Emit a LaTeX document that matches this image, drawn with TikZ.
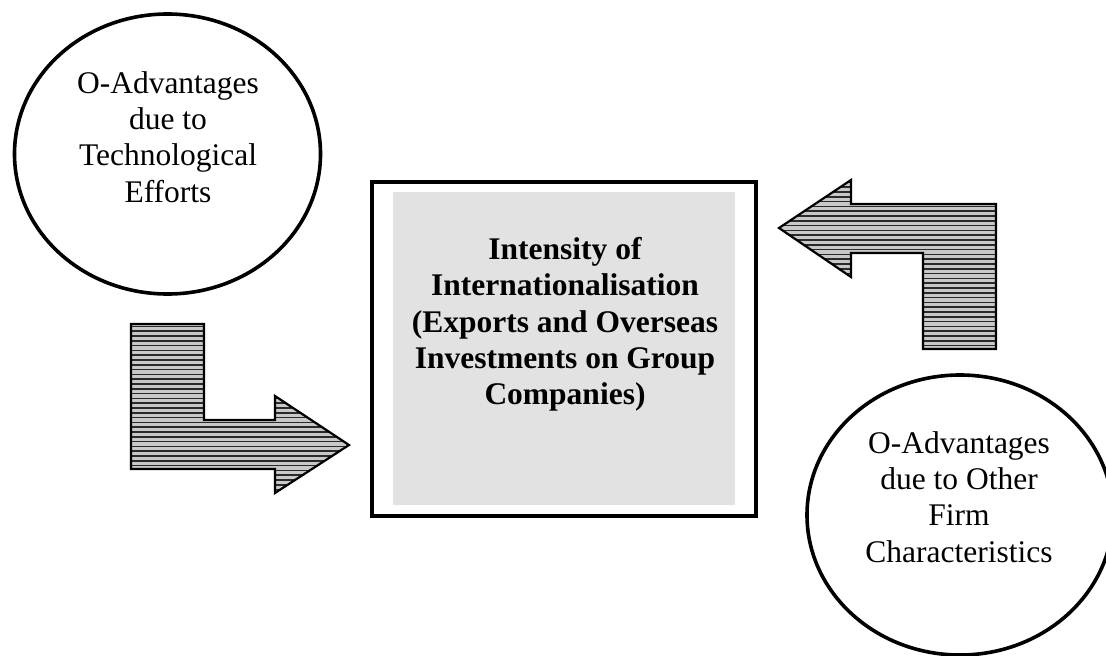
\documentclass[tikz,border=0pt]{standalone}
\usepackage{fontspec}
\setmainfont{Liberation Serif}
\usetikzlibrary{shapes.geometric}
\definecolor{boxgray}{HTML}{E2E2E2}
\definecolor{hatchbg}{HTML}{C8C8C8}
\definecolor{hatchline}{HTML}{2A2A2A}
\tikzset{
  oval/.style={draw=black, line width=3.6pt, ellipse, minimum width=306pt, minimum height=280pt, inner sep=0pt},
  ovaltext/.style={align=center, font=\fontsize{31.5}{36.3}\selectfont, inner sep=0pt},
  maintext/.style={align=center, font=\fontsize{31.5}{36.3}\selectfont\bfseries, inner sep=0pt},
  outerbox/.style={draw=black, line width=4pt},
  innerbox/.style={fill=boxgray},
  arrowoutline/.style={draw=black, line width=2.2pt, line join=miter},
}
\newcommand{\hatchfill}[1]{%
  \begin{scope}
    \clip #1;
    \fill[hatchbg] (0,0) rectangle (1106,656);
    \foreach \yy in {0,4.8,...,656}{\draw[hatchline, line width=1.7pt] (0,\yy) -- (1106,\yy);}
  \end{scope}
  \draw[arrowoutline] #1;
}
\begin{document}
\begin{tikzpicture}[x=1pt,y=-1pt]
\useasboundingbox (0,0) rectangle (1106,656);
% central box
\draw[outerbox] (372,182) rectangle (756,516);
\node[innerbox, minimum width=342pt, minimum height=313pt, inner sep=0pt, anchor=north west] (core) at (393,192) {};
\node[maintext] (coretext) at (565,324.5) {Intensity of\\Internationalisation\\(Exports and Overseas\\Investments on Group\\Companies)};
% ellipses
\node[oval] (tech) at (167.5,154) {};
\node[ovaltext] (techtext) at (168,137) {O-Advantages\\due to\\Technological\\Efforts};
\node[oval] (other) at (960,515) {};
\node[ovaltext] (othertext) at (959,497) {O-Advantages\\due to Other\\Firm\\Characteristics};
% arrow from tech to core
\hatchfill{(131,324) -- (204,324) -- (204,420) -- (275,420) -- (275,396) -- (349,445) -- (275,493) -- (275,469) -- (131,469) -- cycle}
% arrow from other to core
\hatchfill{(779,228) -- (851,180) -- (851,204) -- (996,204) -- (996,349) -- (923,349) -- (923,253) -- (851,253) -- (851,277) -- cycle}
\end{tikzpicture}
\end{document}
